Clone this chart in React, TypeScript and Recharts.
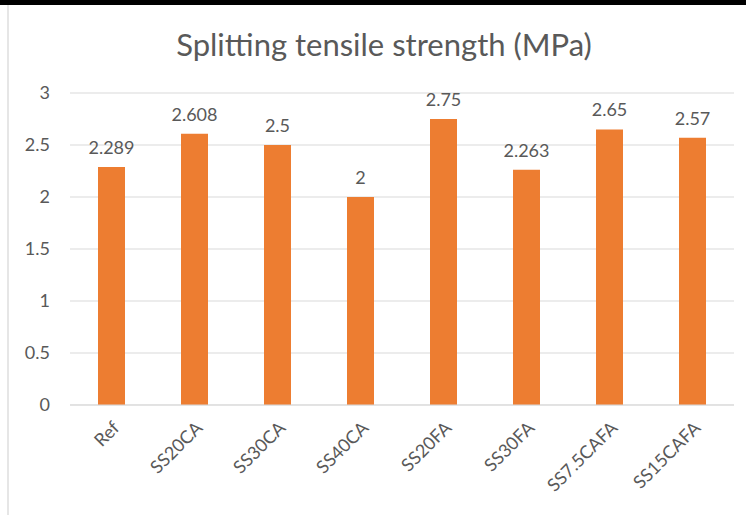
import { Bar, BarChart, CartesianGrid, LabelList, XAxis, YAxis } from "recharts";

// Splitting tensile strength per mix
const mixes = ["Ref", "SS20CA", "SS30CA", "SS40CA", "SS20FA", "SS30FA", "SS7.5CAFA", "SS15CAFA"];
const strength = [2.289, 2.608, 2.5, 2, 2.75, 2.263, 2.65, 2.57];
const yTicks = [0, 0.5, 1, 1.5, 2, 2.5, 3];

const ORANGE = "#ED7D31";
const TEXT = "#595959";
const GRID = "#d9d9d9";
const FONT = "Lato, 'Open Sans', sans-serif";

const data = mixes.map((name, i) => ({ name, value: strength[i] }));

export default function App() {
  return (
    <div
      style={{
        position: "fixed",
        left: 0,
        top: 0,
        width: 746,
        height: 515,
        background: "#fff",
        fontFamily: FONT,
        overflow: "hidden",
      }}
    >
      {/* dark strip along the top and the thin frame edge on the left */}
      <div style={{ position: "absolute", left: 0, top: 0, width: 746, height: 5, background: "#000" }} />
      <div style={{ position: "absolute", left: 7, top: 5, width: 2, height: 510, background: "#e6e6e6" }} />
      <div
        style={{
          position: "absolute",
          left: 0,
          width: 768,
          top: 26,
          textAlign: "center",
          fontSize: 31,
          lineHeight: "36px",
          color: TEXT,
        }}
      >
        Splitting tensile strength (MPa)
      </div>
      <BarChart
        width={746}
        height={515}
        data={data}
        margin={{ top: 93, right: 12, bottom: 10, left: 8 }}
        style={{ position: "absolute", left: 0, top: 0 }}
      >
        <CartesianGrid stroke={GRID} vertical={false} />
        <XAxis
          dataKey="name"
          interval={0}
          height={100}
          tickLine={false}
          axisLine={{ stroke: GRID }}
          tick={{ fill: TEXT, fontSize: 18, fontFamily: FONT }}
          angle={-45}
          textAnchor="end"
          tickMargin={9}
        />
        <YAxis
          width={62}
          domain={[0, 3]}
          ticks={yTicks}
          axisLine={false}
          tickLine={false}
          tickSize={0}
          tickMargin={20}
          tick={{ fill: TEXT, fontSize: 18, fontFamily: FONT }}
        />
        <Bar dataKey="value" fill={ORANGE} barSize={27} isAnimationActive={false}>
          <LabelList
            dataKey="value"
            position="top"
            offset={13}
            fill={TEXT}
            fontSize={18}
            fontFamily={FONT}
          />
        </Bar>
      </BarChart>
    </div>
  );
}
